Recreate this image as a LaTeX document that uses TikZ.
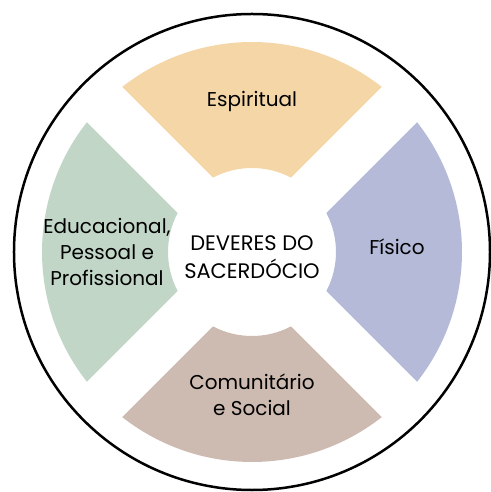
\documentclass[tikz,border=0pt]{standalone}
\usepackage{fontspec}
\setmainfont{Poppins}
\definecolor{corEspiritual}{HTML}{F5D6A7}
\definecolor{corFisico}{HTML}{B4BAD7}
\definecolor{corComunitario}{HTML}{CDBBB2}
\definecolor{corEducacional}{HTML}{C1D6C7}
\begin{document}
\begin{tikzpicture}[x=0.5pt,y=0.5pt,
    rotulo/.style={align=center, font=\fontsize{10}{13}\selectfont}]
    \useasboundingbox (-252,-240) rectangle (239,252);

    % Circulo externo
    \draw[line width=1.25pt] (0,0) circle[radius=238];

    % Setores
    \foreach \ang/\cor in {90/corEspiritual,0/corFisico,270/corComunitario,180/corEducacional} {
        \fill[\cor] ({\ang-45+asin(25/210)}:210)
            arc[start angle={\ang-45+asin(25/210)}, end angle={\ang+45-asin(25/210)}, radius=210]
            -- ({\ang+45-asin(25/84)}:84)
            arc[start angle={\ang+45-asin(25/84)}, end angle={\ang-45+asin(25/84)}, radius=84]
            -- cycle;
    }

    % Rotulos
    \node[rotulo] (espiritual) at (0,151) {Espiritual};
    \node[rotulo] (fisico) at (145,5) {Físico};
    \node[rotulo] (comunitario) at (0,-143) {Comunitário\\e Social};
    \node[rotulo] (educacional) at (-145,0) {Educacional,\\Pessoal e\\Profissional};
    \node[rotulo, font=\fontsize{10.5}{14}\selectfont] (centro) at (0,-5) {DEVERES DO\\SACERDÓCIO};
\end{tikzpicture}
\end{document}
